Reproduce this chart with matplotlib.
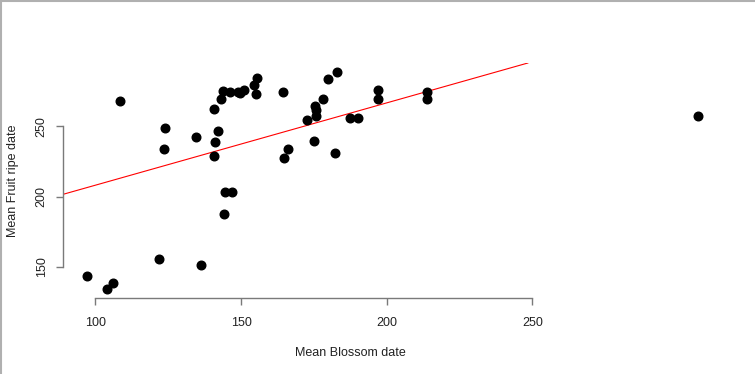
import matplotlib
matplotlib.use("Agg")
import matplotlib.pyplot as plt
from matplotlib.lines import Line2D

# Mean blossom date vs mean fruit ripe date.
blossom = [
    108.5, 123.8, 123.6, 134.4, 140.9, 142.0, 141.1, 140.8, 143.3, 143.7,
    146.3, 149.1, 149.5, 151.1, 154.3, 155.4, 155.2, 144.4, 146.9, 144.1,
    121.9, 136.2, 97.3, 104.1, 105.9, 164.3, 182.9, 179.9, 178.2, 175.4,
    175.8, 175.9, 172.7, 174.9, 166.3, 164.8, 182.3, 187.5, 190.2, 197.1,
    197.1, 213.8, 213.8, 306.8,
]
ripe = [
    268.1, 248.6, 234.3, 242.6, 262.1, 246.9, 239.1, 229.1, 269.8, 275.0,
    274.6, 274.6, 273.9, 275.7, 279.8, 284.6, 272.9, 203.4, 203.4, 187.4,
    155.5, 151.4, 143.6, 134.3, 138.4, 274.6, 289.1, 283.9, 269.8, 264.3,
    261.9, 257.6, 254.8, 240.0, 233.9, 227.4, 231.4, 255.7, 256.4, 276.2,
    269.8, 274.8, 269.8, 257.6,
]

# Fitted line (intercept, slope)
fit_a, fit_b = 149.6, 0.586

x_ticks = [100, 150, 200, 250]
y_ticks = [150, 200, 250]

plt.rcParams["font.family"] = ["Liberation Sans", "DejaVu Sans"]

fig = plt.figure(figsize=(7.55, 3.74), dpi=100)
ax = fig.add_axes([63 / 755, 76 / 374, (722 - 63) / 755, (298 - 63) / 374])

ax.plot(blossom, ripe, "o", color="black", markersize=6.2, zorder=3)
ax.axline((0, fit_a), slope=fit_b, color="red", linewidth=0.8, zorder=2)

ax.set_xlim(88.9, 315.1)
ax.set_ylim(127.9, 295.2)

for side in ["top", "right"]:
    ax.spines[side].set_visible(False)
axis_col = "#7a7a7a"
ax.spines["bottom"].set_bounds(x_ticks[0], x_ticks[-1])
ax.spines["left"].set_bounds(y_ticks[0], y_ticks[-1])
for side in ["bottom", "left"]:
    ax.spines[side].set_color(axis_col)
    ax.spines[side].set_linewidth(1.0)

ax.set_xticks(x_ticks)
ax.set_yticks(y_ticks)
ax.set_yticklabels([str(v) for v in y_ticks], rotation=90, va="center")
ax.tick_params(axis="both", length=5, width=1.0, color=axis_col,
               labelsize=9, labelcolor="#222222")
ax.tick_params(axis="x", pad=9)
ax.tick_params(axis="y", pad=6)

fig.text(350 / 755, 1 - 353 / 374, "Mean Blossom date", ha="center",
         va="center", fontsize=9, color="#222222")
fig.text(13 / 755, 1 - 181 / 374, "Mean Fruit ripe date", ha="center",
         va="center", rotation=90, fontsize=9, color="#222222")

# thin grey frame on top and left edge of the screenshot
fig.add_artist(Line2D([0, 1], [0.997, 0.997], transform=fig.transFigure,
                      color="#b0b0b0", linewidth=1.5))
fig.add_artist(Line2D([0.001, 0.001], [0, 1], transform=fig.transFigure,
                      color="#b0b0b0", linewidth=1.5))

fig.savefig("out.png", dpi=100)
